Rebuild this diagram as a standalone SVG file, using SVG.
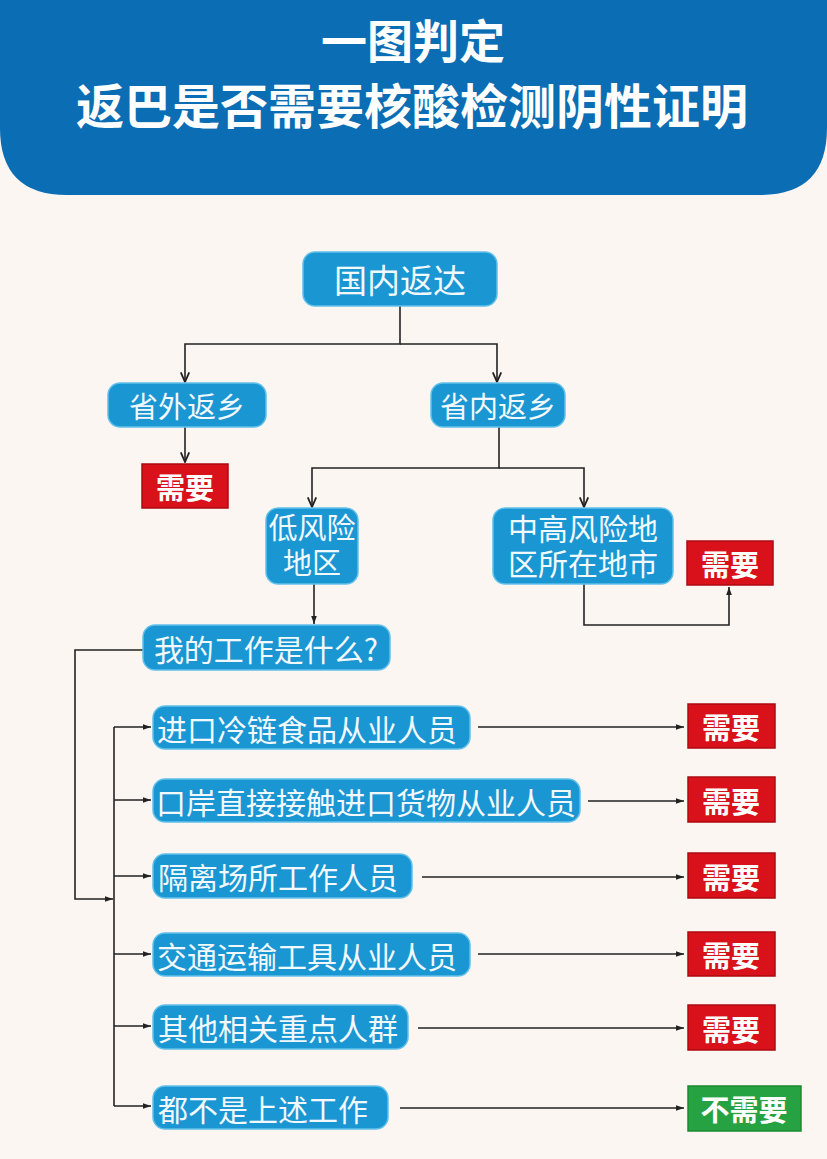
<svg xmlns="http://www.w3.org/2000/svg" width="827" height="1159" viewBox="0 0 827 1159">
<defs>
<style>
.node rect{fill:#1a96d3;stroke:#62c1ea;stroke-width:1.5}
.node text{font-family:"Noto Sans CJK SC",sans-serif;fill:#f2f9fd;font-size:30px}
.red rect{fill:#d8111b;stroke:#ad0a12;stroke-width:1.5}
.green rect{fill:#27a242;stroke:#1b8a33;stroke-width:1.5}
.tag text{font-family:"Noto Sans CJK SC",sans-serif;font-weight:700;fill:#fff;font-size:29px}
.conn path{fill:none;stroke:#222;stroke-width:1.6}
.title{font-family:"Noto Sans CJK SC",sans-serif;font-weight:700;fill:#fff}
</style>
<marker id="open" viewBox="0 0 10 10" refX="9" refY="5" markerWidth="12" markerHeight="12" orient="auto" markerUnits="userSpaceOnUse"><path d="M1,1.5 L9,5 L1,8.5" fill="none" stroke="#222" stroke-width="1.5"/></marker>
<marker id="solid" viewBox="0 0 10 10" refX="10" refY="5" markerWidth="11" markerHeight="8" orient="auto" markerUnits="userSpaceOnUse"><path d="M0,1.5 L10,5 L0,8.5 Z" fill="#222"/></marker>
</defs>
<rect width="827" height="1159" fill="#fcf6f2"/>
<g id="header">
<path d="M0,0 H827 V128 Q827,195 760,195 H67 Q0,195 0,128 Z" fill="#0b6db4"/>
<text class="title" x="413" y="58" text-anchor="middle" style="font-size:46px">一图判定</text>
<text class="title" x="412" y="124" text-anchor="middle" style="font-size:48px">返巴是否需要核酸检测阴性证明</text>
</g>
<g class="conn" id="connectors">
<path d="M400,306 V344 H185 V382" marker-end="url(#open)"/>
<path d="M400,344 H497 V382" marker-end="url(#open)"/>
<path d="M185,427 V462" marker-end="url(#open)"/>
<path d="M499,427 V468 H312 V507" marker-end="url(#open)"/>
<path d="M499,468 H584 V507" marker-end="url(#open)"/>
<path d="M584,584 V625 H729 V587" marker-end="url(#solid)"/>
<path d="M314,584 V624" marker-end="url(#solid)"/>
<path d="M143,650 H75 V899 H113" marker-end="url(#solid)"/>
<path d="M114,727 V1106"/>
<path d="M114,727 H151" marker-end="url(#solid)"/>
<path d="M114,800 H151" marker-end="url(#solid)"/>
<path d="M114,876 H151" marker-end="url(#solid)"/>
<path d="M114,954 H151" marker-end="url(#solid)"/>
<path d="M114,1026 H151" marker-end="url(#solid)"/>
<path d="M114,1106 H151" marker-end="url(#solid)"/>
<path d="M478,727 H684" marker-end="url(#solid)"/>
<path d="M588,801 H684" marker-end="url(#solid)"/>
<path d="M422,877 H684" marker-end="url(#solid)"/>
<path d="M478,954 H684" marker-end="url(#solid)"/>
<path d="M418,1028 H684" marker-end="url(#solid)"/>
<path d="M400,1108 H684" marker-end="url(#solid)"/>
</g>
<g class="node" id="n-guonei"><rect x="303" y="252" width="194" height="54" rx="12"/><text x="400" y="279" text-anchor="middle" dominant-baseline="central" style="font-size:33px">国内返达</text></g>
<g class="node" id="n-shengwai"><rect x="108" y="383" width="158" height="44" rx="12"/><text x="187" y="405" text-anchor="middle" dominant-baseline="central" style="font-size:29px">省外返乡</text></g>
<g class="node" id="n-shengnei"><rect x="431" y="383" width="134" height="44" rx="12"/><text x="498" y="405" text-anchor="middle" dominant-baseline="central" style="font-size:29px">省内返乡</text></g>
<g class="tag red" id="t-need0"><rect x="142" y="464" width="86" height="44"/><text x="185" y="486" text-anchor="middle" dominant-baseline="central">需要</text></g>
<g class="node" id="n-lowrisk"><rect x="266" y="508" width="92" height="76" rx="12"/><text text-anchor="middle" style="font-size:29px"><tspan x="312" y="539">低风险</tspan><tspan x="312" y="574">地区</tspan></text></g>
<g class="node" id="n-midhigh"><rect x="493" y="508" width="180" height="76" rx="12"/><text text-anchor="middle"><tspan x="583" y="540">中高风险地</tspan><tspan x="583" y="575">区所在地市</tspan></text></g>
<g class="tag red" id="t-need1"><rect x="687" y="541" width="86" height="44"/><text x="730" y="563" text-anchor="middle" dominant-baseline="central">需要</text></g>
<g class="node" id="n-job"><rect x="143" y="625" width="247" height="45" rx="12"/><text x="266" y="648" text-anchor="middle" dominant-baseline="central">我的工作是什么?</text></g>
<g class="node" id="n-r1"><rect x="153" y="706" width="317" height="43" rx="12"/><text x="157" y="728" dominant-baseline="central">进口冷链食品从业人员</text></g>
<g class="node" id="n-r2"><rect x="153" y="779" width="427" height="43" rx="12"/><text x="156" y="801" dominant-baseline="central">口岸直接接触进口货物从业人员</text></g>
<g class="node" id="n-r3"><rect x="153" y="854" width="259" height="44" rx="12"/><text x="158" y="876" dominant-baseline="central">隔离场所工作人员</text></g>
<g class="node" id="n-r4"><rect x="153" y="933" width="317" height="43" rx="12"/><text x="157" y="955" dominant-baseline="central">交通运输工具从业人员</text></g>
<g class="node" id="n-r5"><rect x="153" y="1005" width="255" height="44" rx="12"/><text x="158" y="1027" dominant-baseline="central">其他相关重点人群</text></g>
<g class="node" id="n-r6"><rect x="153" y="1086" width="235" height="43" rx="12"/><text x="158" y="1108" dominant-baseline="central">都不是上述工作</text></g>
<g class="tag red" id="t-r1"><rect x="688" y="704" width="87" height="44"/><text x="731" y="726" text-anchor="middle" dominant-baseline="central">需要</text></g>
<g class="tag red" id="t-r2"><rect x="688" y="777" width="87" height="45"/><text x="731" y="800" text-anchor="middle" dominant-baseline="central">需要</text></g>
<g class="tag red" id="t-r3"><rect x="688" y="853" width="87" height="45"/><text x="731" y="876" text-anchor="middle" dominant-baseline="central">需要</text></g>
<g class="tag red" id="t-r4"><rect x="688" y="932" width="87" height="44"/><text x="731" y="954" text-anchor="middle" dominant-baseline="central">需要</text></g>
<g class="tag red" id="t-r5"><rect x="688" y="1005" width="87" height="45"/><text x="731" y="1028" text-anchor="middle" dominant-baseline="central">需要</text></g>
<g class="tag green" id="t-r6"><rect x="688" y="1086" width="113" height="45"/><text x="744" y="1108" text-anchor="middle" dominant-baseline="central">不需要</text></g>
</svg>
